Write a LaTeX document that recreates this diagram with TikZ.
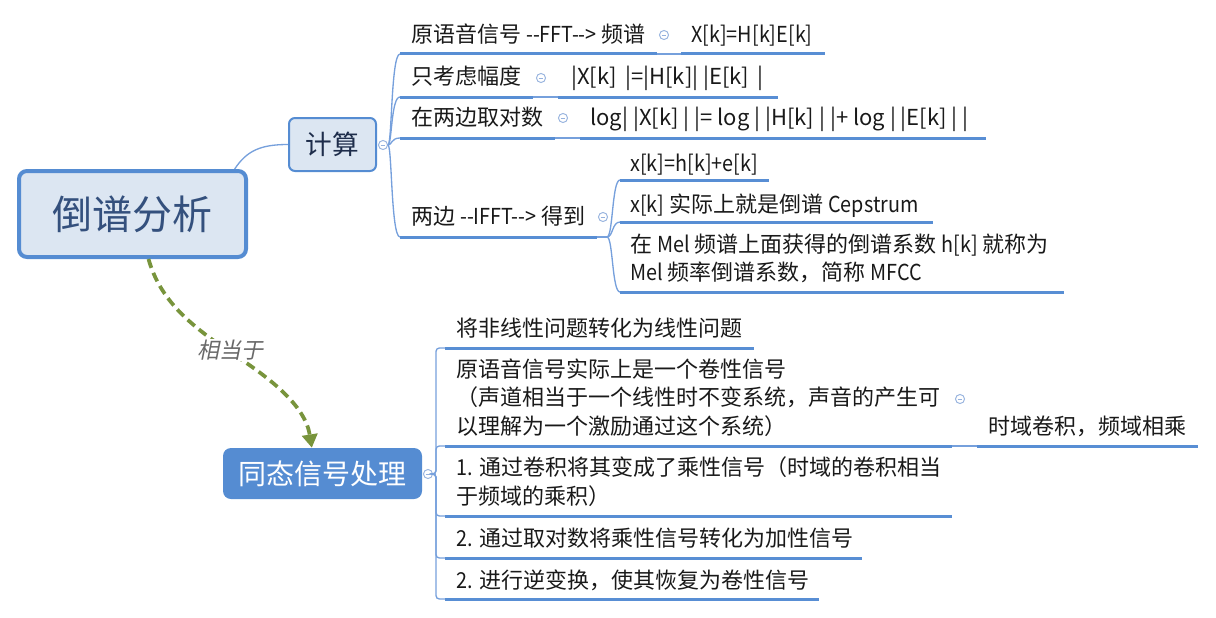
\documentclass[tikz,border=0pt]{standalone}
\usepackage{fontspec}
\setmainfont{Noto Sans CJK SC}
\newfontfamily\slantfont[FakeSlant=0.2]{Noto Sans CJK SC}
\newfontfamily\latn[FakeStretch=0.9]{Noto Sans CJK SC}
\usetikzlibrary{arrows.meta}
\definecolor{lineblue}{RGB}{88,142,212}
\definecolor{thinblue}{RGB}{118,160,220}
\definecolor{boxfill}{RGB}{220,230,242}
\definecolor{rootblue}{RGB}{85,140,210}
\definecolor{rootText}{RGB}{52,80,125}
\definecolor{subText}{RGB}{30,45,75}
\definecolor{dashgreen}{RGB}{120,148,60}
\definecolor{txt}{RGB}{25,25,25}
\definecolor{circ}{RGB}{150,178,222}
\definecolor{relgray}{RGB}{105,105,105}
\begin{document}
\begin{tikzpicture}[x=0.75pt,y=-0.75pt,
  lbl/.style={anchor=base west, inner sep=0pt, text=txt, font=\fontsize{16.5}{21.5}\selectfont},
  mlbl/.style={anchor=west, inner sep=0pt, text=txt, align=left, font=\fontsize{16.5}{21.5}\selectfont},
  uline/.style={draw=lineblue, line width=2.25pt},
  thinline/.style={draw=thinblue, line width=1pt},
  collapse/.style={circle, draw=circ, fill=white, line width=0.7pt, minimum size=6.8pt, inner sep=0pt,
    path picture={\draw[circ, line width=0.6pt] ([xshift=-1.7pt]path picture bounding box.center) -- ([xshift=1.7pt]path picture bounding box.center);}},
  relarrow/.style={draw=dashgreen, line width=2.8pt, dash pattern=on 7pt off 4pt, -{Triangle[width=11.5pt,length=10pt]}}
]
\useasboundingbox (0,0) rectangle (1216,617);

% ---------- main boxes ----------
\node[draw=rootblue, line width=3pt, fill=boxfill, rounded corners=6pt,
      minimum width=170.25pt, minimum height=64.5pt, inner sep=0pt,
      font=\fontsize{30}{36}\selectfont, text=rootText] (root) at (132.5,214) {倒谱分析};
\node[draw=rootblue, line width=1.5pt, fill=boxfill, rounded corners=4.5pt,
      minimum width=65.25pt, minimum height=39.75pt, inner sep=0pt,
      font=\fontsize{20}{24}\selectfont, text=subText] (jisuan) at (332.5,144.5) {计算};
\node[fill=rootblue, rounded corners=6pt,
      minimum width=149.25pt, minimum height=38.25pt, inner sep=0pt,
      font=\fontsize{21}{25}\selectfont, text=white] (tongtai) at (322.5,473.5) {同态信号处理};

\draw[thinline] ([xshift=-10pt]root.north east) .. controls +(12,-18) and +(-28,0) .. (jisuan.west);

% ---------- relation ----------
\draw[relarrow] ([xshift=12pt]root.south) .. controls (160,300) and (190,325) .. (230,352)
   .. controls (270,378) and (305,405) .. ([xshift=-8pt]tongtai.north);
\node[fill=white, inner sep=1pt, font=\slantfont\fontsize{16.5}{20}\selectfont, text=relgray] (rel) at (230,350) {相当于};

% ---------- 计算 branch ----------
\node[collapse] (cj) at (383,145) {};
\coordinate (r1a) at (400,54);  \coordinate (r1b) at (657,54);
\coordinate (r1c) at (681,54);  \coordinate (r1d) at (825,54);
\coordinate (r2a) at (400,97);  \coordinate (r2b) at (533,97);
\coordinate (r2c) at (558,97);  \coordinate (r2d) at (778,97);
\coordinate (r3a) at (400,138); \coordinate (r3b) at (555,138);
\coordinate (r3c) at (580,138); \coordinate (r3d) at (986,138);
\coordinate (r4a) at (400,237); \coordinate (r4b) at (597,237);
\coordinate (r4c) at (607,237);
\coordinate (s1a) at (620,180); \coordinate (s1b) at (769,180);
\coordinate (s2a) at (620,222); \coordinate (s2b) at (933,222);
\coordinate (s3a) at (620,292); \coordinate (s3b) at (1064,292);

\foreach \c in {r1a,r2a,r3a,r4a}
  \draw[thinline] (cj.east) .. controls +(4,0) and +(-9,0) .. (\c);

\draw[uline] (r1a) -- (r1b); \draw[thinline] (r1b) -- (r1c); \draw[uline] (r1c) -- (r1d);
\draw[uline] (r2a) -- (r2b); \draw[thinline] (r2b) -- (r2c); \draw[uline] (r2c) -- (r2d);
\draw[uline] (r3a) -- (r3b); \draw[thinline] (r3b) -- (r3c); \draw[uline] (r3c) -- (r3d);
\draw[uline] (r4a) -- (r4b); \draw[thinline] (r4b) -- (r4c);
\foreach \c in {s1a,s2a,s3a}
  \draw[thinline] (r4c) .. controls +(6,0) and +(-8,0) .. (\c);
\draw[uline] (s1a) -- (s1b);
\draw[uline] (s2a) -- (s2b);
\draw[uline] (s3a) -- (s3b);

\node[lbl] (t1) at (411,42.5) {原语音信号 {\latn -{}-FFT-{}->} 频谱};
\node[collapse] (c1) at (664,35) {};
\node[lbl] (t1x) at (691,42.5) {\latn X[k]=H[k]E[k]};
\node[lbl] (t2) at (411,84.5) {只考虑幅度};
\node[collapse] (c2) at (541,78) {};
\node[lbl] (t2x) at (571,84.5) {|X[k] \,|=|H[k]| |E[k] \,|};
\node[lbl] (t3) at (411,125.5) {在两边取对数};
\node[collapse] (c3) at (563,118) {};
\node[lbl] (t3x) at (590,125.5) {log| |X[k] | |= log | |H[k] | |+ log | |E[k] | |};
\node[lbl] (t4) at (411,224.5) {两边 {\latn -{}-IFFT-{}->} 得到};
\node[collapse] (c4) at (603,217) {};
\node[lbl] (s1) at (630,171.5) {\latn x[k]=h[k]+e[k]};
\node[lbl] (s2) at (630,212.5) {{\latn x[k]} 实际上就是倒谱 {\latn Cepstrum}};
\node[mlbl] (s3) at (630,258.5) {在 {\latn Mel} 频谱上面获得的倒谱系数 {\latn h[k]} 就称为\\{\latn Mel} 频率倒谱系数，简称 {\latn MFCC}};

% ---------- 同态信号处理 branch ----------
\node[collapse] (ct) at (428,474) {};
\coordinate (l1a) at (445,348); \coordinate (l1b) at (754,348);
\coordinate (l2a) at (445,446); \coordinate (l2b) at (952,446);
\coordinate (l2c) at (977,446); \coordinate (l2d) at (1198,446);
\coordinate (l3a) at (445,516); \coordinate (l3b) at (952,516);
\coordinate (l4a) at (445,558); \coordinate (l4b) at (862,558);
\coordinate (l5a) at (445,599); \coordinate (l5b) at (819,599);
\foreach \c/\yy in {l1a/348,l2a/446,l3a/516,l4a/558,l5a/599}
  \draw[thinline, rounded corners=2.5pt] (ct.east) -- (436,474) -- (436,\yy) -- (\c);
\draw[uline] (l1a) -- (l1b);
\draw[uline] (l2a) -- (l2b); \draw[thinline] (l2b) -- (l2c); \draw[uline] (l2c) -- (l2d);
\draw[uline] (l3a) -- (l3b);
\draw[uline] (l4a) -- (l4b);
\draw[uline] (l5a) -- (l5b);

\node[lbl] (u1) at (456,336.5) {将非线性问题转化为线性问题};
\node[mlbl] (u2) at (456,397.7) {原语音信号实际上是一个卷性信号\\（声道相当于一个线性时不变系统，声音的产生可\\以理解为一个激励通过这个系统）};
\node[collapse] (cu2) at (960,399) {};
\node[lbl] (u2x) at (988,434.5) {时域卷积，频域相乘};
\node[mlbl] (u3) at (456,481.5) {{\latn 1.} 通过卷积将其变成了乘性信号（时域的卷积相当\\于频域的乘积）};
\node[lbl] (u4) at (456,546.5) {{\latn 2.} 通过取对数将乘性信号转化为加性信号};
\node[lbl] (u5) at (456,588.5) {{\latn 2.} 进行逆变换，使其恢复为卷性信号};
\end{tikzpicture}
\end{document}
